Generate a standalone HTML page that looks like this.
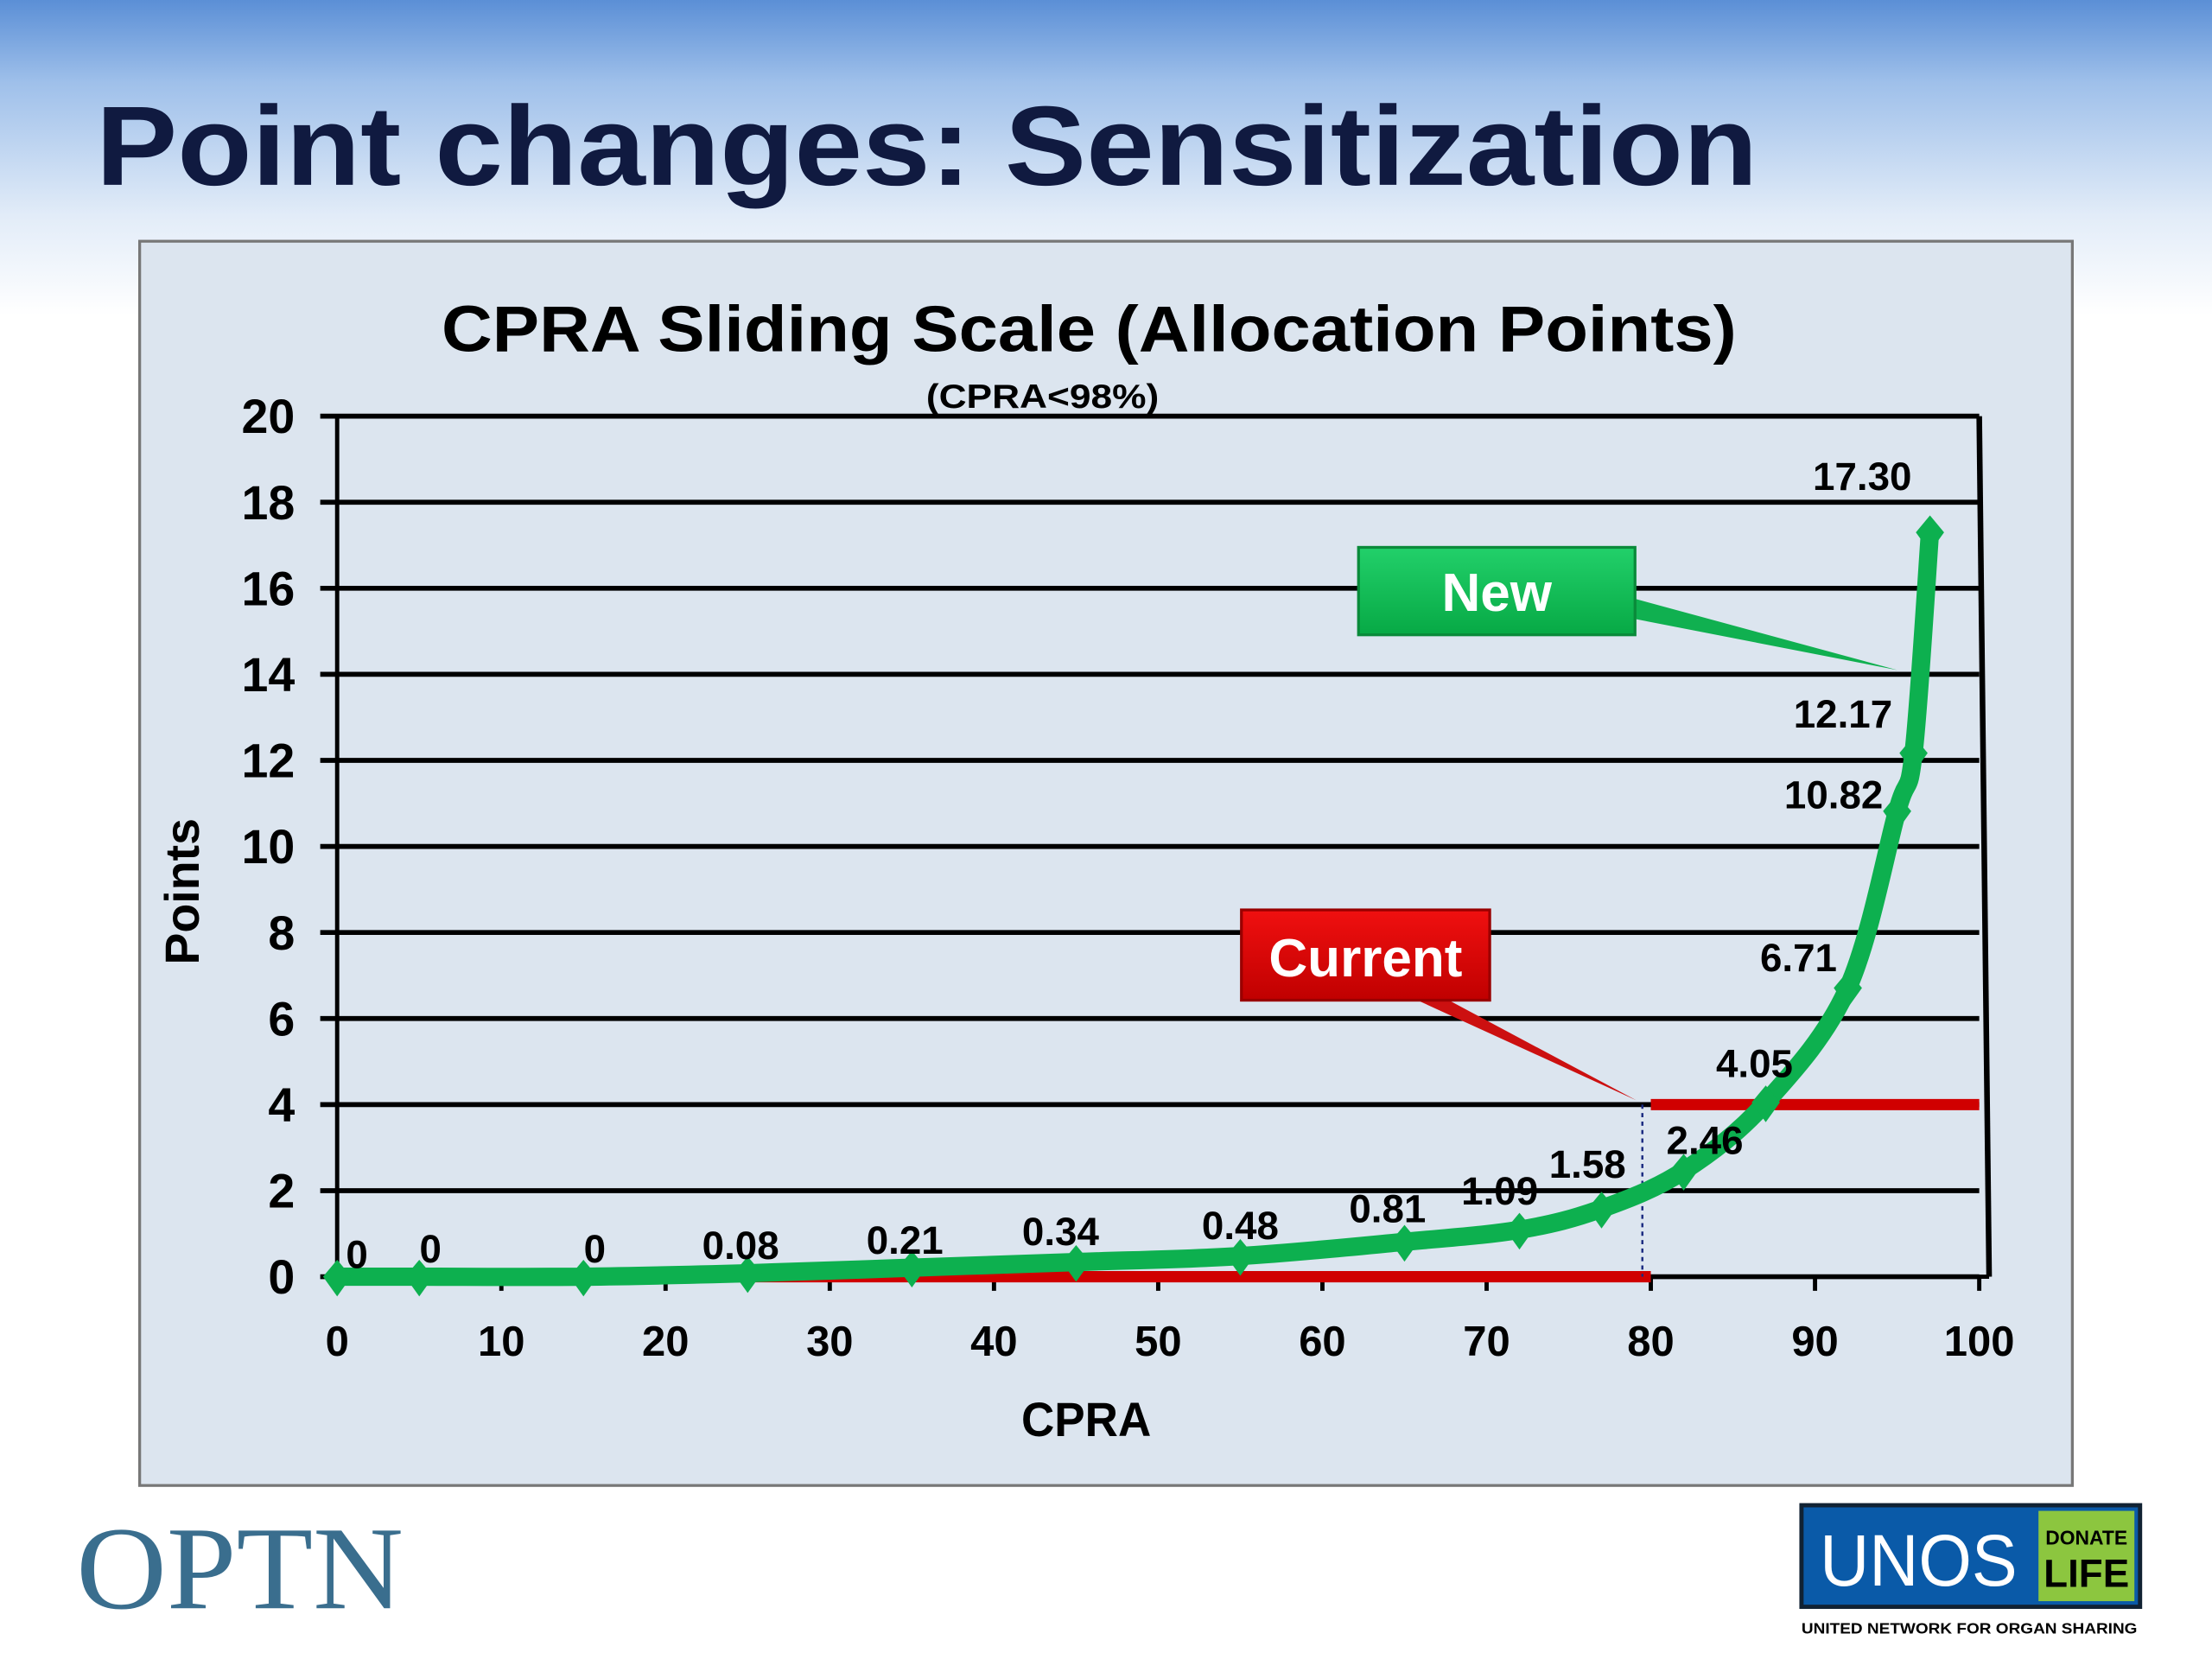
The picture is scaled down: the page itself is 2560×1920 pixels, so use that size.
<!DOCTYPE html>
<html><head><meta charset="utf-8"><style>
html,body{margin:0;padding:0;width:2560px;height:1920px;overflow:hidden;background:#fff}
svg{display:block}
text{font-family:"Liberation Sans",sans-serif}
</style></head><body>
<svg id="chart" width="2560" height="1920" viewBox="0 0 1568 1176" preserveAspectRatio="none" xmlns="http://www.w3.org/2000/svg">
<defs>
<linearGradient id="bg" x1="0" y1="0" x2="0" y2="1">
<stop offset="0" stop-color="#5b8fd6"/><stop offset="0.05" stop-color="#9fc0ea"/><stop offset="0.13" stop-color="#e2ecf8"/><stop offset="0.19" stop-color="#ffffff"/><stop offset="1" stop-color="#ffffff"/>
</linearGradient>
<linearGradient id="gb" x1="0" y1="0" x2="0" y2="1"><stop offset="0" stop-color="#22d06a"/><stop offset="1" stop-color="#07a945"/></linearGradient>
<linearGradient id="rb" x1="0" y1="0" x2="0" y2="1"><stop offset="0" stop-color="#f01010"/><stop offset="1" stop-color="#c00000"/></linearGradient>
</defs>
<rect x="0" y="0" width="1568" height="1176" fill="url(#bg)"/>
<text x="68" y="131" font-size="80" font-weight="bold" fill="#101a40" textLength="1178" lengthAdjust="spacingAndGlyphs">Point changes: Sensitization</text>
<rect x="99" y="171" width="1370" height="882" fill="#dce5ef" stroke="#777" stroke-width="2"/>
<text x="772" y="249" font-size="46" font-weight="bold" text-anchor="middle" textLength="918" lengthAdjust="spacingAndGlyphs">CPRA Sliding Scale (Allocation Points)</text>
<text x="739" y="289" font-size="24" font-weight="bold" text-anchor="middle" textLength="165" lengthAdjust="spacingAndGlyphs">(CPRA&lt;98%)</text>
<g id="grid"></g>
<g id="axes"></g>
<g id="series"></g>
<g id="labels"></g>
<text transform="translate(141,632) rotate(-90)" font-size="34" font-weight="bold" text-anchor="middle">Points</text>
<text x="770" y="1018" font-size="34" font-weight="bold" text-anchor="middle" textLength="92" lengthAdjust="spacingAndGlyphs">CPRA</text>
<g>
<polygon points="1150,422 1345,475 1150,437" fill="#10b050"/>
<rect x="963" y="388" width="196" height="62" fill="url(#gb)" stroke="#0a8a3a" stroke-width="2"/>
<text x="1061" y="433" font-size="38" font-weight="bold" fill="#fff" text-anchor="middle">New</text>
</g>
<g>
<polygon points="985,700 1160,780 1010,700" fill="#cc1010"/>
<rect x="880" y="645" width="176" height="64" fill="url(#rb)" stroke="#900" stroke-width="2"/>
<text x="968" y="692" font-size="38" font-weight="bold" fill="#fff" text-anchor="middle">Current</text>
</g>
<g><text x="54" y="1140" style="font-family:'Liberation Serif',serif" font-size="84" fill="#3a6e8e" textLength="232" lengthAdjust="spacingAndGlyphs">OPTN</text></g>
<g>
<rect x="1277" y="1067" width="240" height="72" fill="#0a5aa8" stroke="#123" stroke-width="3"/>
<text x="1360" y="1124" font-size="52" fill="#fff" text-anchor="middle" textLength="140" lengthAdjust="spacingAndGlyphs">UNOS</text>
<rect x="1445" y="1071" width="68" height="64" fill="#8cc63f"/>
<text x="1479" y="1095" font-size="14" font-weight="bold" text-anchor="middle">DONATE</text>
<text x="1479" y="1125" font-size="28" font-weight="bold" text-anchor="middle">LIFE</text>
<text x="1396" y="1158" font-size="11" font-weight="bold" text-anchor="middle" textLength="238" lengthAdjust="spacingAndGlyphs">UNITED NETWORK FOR ORGAN SHARING</text>
</g>
</svg>
<script>
const xTicks=[0,10,20,30,40,50,60,70,80,90,100];
const yTicks=[0,2,4,6,8,10,12,14,16,18,20];
const newX=[0,5,15,25,35,45,55,65,72,77,82,87,92,95,96,97];
const newY=[0,0,0,0.08,0.21,0.34,0.48,0.81,1.09,1.58,2.46,4.05,6.71,10.82,12.17,17.30];
const newLabels=["0","0","0","0.08","0.21","0.34","0.48","0.81","1.09","1.58","2.46","4.05","6.71","10.82","12.17","17.30"];
const currentX=[0,80,80,100];
const currentY=[0,0,4,4];
const NS="http://www.w3.org/2000/svg";
const X0=239,X1=1403,Y0=905,Y1=295;
const sx=v=>X0+(v-0)/100*(X1-X0);
const sy=v=>Y0-(v-0)/20*(Y0-Y1);
function mk(tag,attrs,parent){const e=document.createElementNS(NS,tag);for(const k in attrs)e.setAttribute(k,attrs[k]);parent.appendChild(e);return e;}
const grid=document.getElementById('grid'),axes=document.getElementById('axes'),series=document.getElementById('series'),labels=document.getElementById('labels');
yTicks.forEach(t=>{
 const l=mk('line',{x1:sx(0)-12,x2:sx(100),y1:sy(t),y2:sy(t),stroke:'#000','stroke-width':3.5},grid);
 
 
 const tx=mk('text',{x:209,y:sy(t)+12,'font-size':34,'font-weight':'bold','text-anchor':'end'},axes);
 tx.textContent=t;
 
 
});
xTicks.forEach(t=>{
 const l=mk('line',{x1:sx(t),x2:sx(t),y1:sy(0),y2:sy(0)+10,stroke:'#000','stroke-width':3},axes);
 
 
 const tx=mk('text',{x:sx(t),y:sy(0)+56,'font-size':30,'font-weight':'bold','text-anchor':'middle'},axes);
 tx.textContent=t;
 
 
});
const la=mk('line',{x1:sx(0),x2:sx(0),y1:sy(20),y2:sy(0),stroke:'#000','stroke-width':3},axes);


const lb=mk('line',{x1:sx(0),x2:sx(100)+7,y1:sy(0),y2:sy(0),stroke:'#000','stroke-width':3},axes);


const lr=mk('line',{x1:sx(100),x2:sx(100)+7,y1:sy(20),y2:sy(0),stroke:'#000','stroke-width':4},axes);


// current series: horizontal segments solid red, vertical step dashed
let cd='';currentX.forEach((x,i)=>{const vert=i>0&&currentX[i-1]===x;cd+=(i===0||vert?'M':'L')+sx(x)+','+sy(currentY[i]);});
const cur=mk('path',{d:cd,fill:'none',stroke:'#d00000','stroke-width':8},series);


for(let i=1;i<currentX.length;i++){if(currentX[i]===currentX[i-1]){
 const dv=mk('line',{x1:sx(currentX[i])-6,x2:sx(currentX[i])-6,y1:sy(currentY[i]),y2:sy(currentY[i-1]),stroke:'#1a2a80','stroke-width':1.5,'stroke-dasharray':'3,3'},series);
 
 
}}
// new series smooth
const pts=newX.map((x,i)=>[sx(x),sy(newY[i])]);
let d='M'+pts[0][0]+','+pts[0][1];
for(let i=0;i<pts.length-1;i++){const p0=pts[i-1]||pts[i],p1=pts[i],p2=pts[i+1],p3=pts[i+2]||p2;
 const c1=[p1[0]+(p2[0]-p0[0])/6,p1[1]+(p2[1]-p0[1])/6],c2=[p2[0]-(p3[0]-p1[0])/6,p2[1]-(p3[1]-p1[1])/6];
 d+=`C${c1[0]},${c1[1]} ${c2[0]},${c2[1]} ${p2[0]},${p2[1]}`;}
const nl=mk('path',{d:d,fill:'none',stroke:'#0db04f','stroke-width':13,'stroke-linejoin':'round'},series);


pts.forEach((p,i)=>{
 const m=mk('polygon',{points:`${p[0]},${p[1]-12} ${p[0]+10},${p[1]} ${p[0]},${p[1]+14} ${p[0]-10},${p[1]}`,fill:'#0db04f'},series);
 
 
 const off=[[14,-6],[8,-10],[8,-10],[-5,-10],[-5,-10],[-11,-12],[0,-12],[-12,-14],[-14,-18],[-10,-22],[15,-12],[-8,-18],[-35,-12],[-45,-2],[-50,-18],[-48,-30]][i];
 const t=mk('text',{x:p[0]+off[0],y:p[1]+off[1],'font-size':28,'font-weight':'bold','text-anchor':'middle'},labels);
 t.textContent=newLabels[i];
 
 
});
</script>
</body></html>
